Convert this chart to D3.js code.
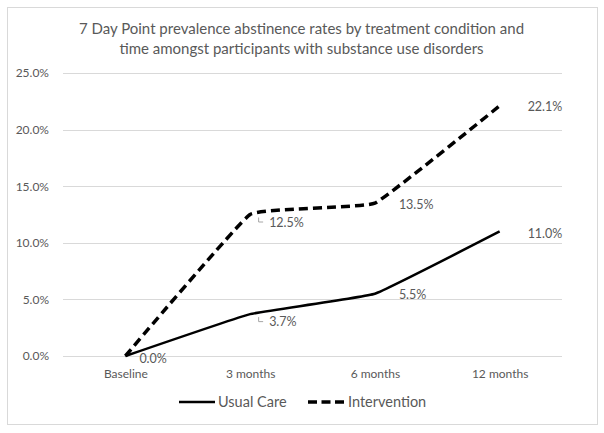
<!DOCTYPE html>
<html>
<head>
<meta charset="utf-8">
<script src="https://cdn.jsdelivr.net/npm/d3@7/dist/d3.min.js"></script>
<style>
  body { margin: 0; background: #fff; }
  text { font-family: Lato, "Open Sans", sans-serif; fill: #595959; }
</style>
</head>
<body>
<svg id="chart"></svg>
<script>
const categories = ["Baseline", "3 months", "6 months", "12 months"];
const usualCare = [0.0, 3.7, 5.5, 11.0];
const intervention = [0.0, 12.5, 13.5, 22.1];
const yTicks = [0, 5, 10, 15, 20, 25];
const titleLines = [
  "7 Day Point prevalence abstinence rates by treatment condition and",
  "time amongst participants with substance use disorders"
];

const width = 604, height = 433;
const margin = { top: 73, right: 42, bottom: 77, left: 63 };

const svg = d3.select("#chart")
  .attr("width", width)
  .attr("height", height);

// chart frame
svg.append("rect")
  .attr("x", 7.5).attr("y", 7.5)
  .attr("width", 590).attr("height", 417)
  .attr("fill", "#fff")
  .attr("stroke", "#d9d9d9");

// title
svg.selectAll(".title")
  .data(titleLines)
  .enter()
  .append("text")
  .attr("class", "title")
  .attr("x", 301.5)
  .attr("y", (d, i) => 34 + i * 19.5)
  .attr("text-anchor", "middle")
  .style("font-size", "15px")
  .text(d => d);

const x = d3.scalePoint()
  .domain(categories)
  .range([margin.left, width - margin.right])
  .padding(0.5);

const y = d3.scaleLinear()
  .domain([0, 25])
  .range([height - margin.bottom, margin.top]);

// gridlines
svg.append("g")
  .selectAll("line")
  .data(yTicks)
  .enter()
  .append("line")
  .attr("x1", margin.left)
  .attr("x2", width - margin.right)
  .attr("y1", d => Math.round(y(d)) + 0.5)
  .attr("y2", d => Math.round(y(d)) + 0.5)
  .attr("stroke", "#d9d9d9");

// y axis labels
const yAxis = svg.append("g")
  .attr("transform", `translate(${margin.left - 11},0)`)
  .call(d3.axisLeft(y).tickValues(yTicks).tickSize(0).tickFormat(d => d.toFixed(1) + "%"));
yAxis.select(".domain").remove();
yAxis.selectAll("text")
  .style("font-size", "12px")
  .style("font-family", "Lato, sans-serif")
  .attr("fill", "#595959");

// x axis labels
const xAxis = svg.append("g")
  .attr("transform", `translate(0,${height - margin.bottom + 10})`)
  .call(d3.axisBottom(x).tickSize(0));
xAxis.select(".domain").remove();
xAxis.selectAll("text")
  .style("font-size", "12px")
  .style("font-family", "Lato, sans-serif")
  .attr("fill", "#595959");

const line = d3.line()
  .x((d, i) => x(categories[i]))
  .y(d => y(d))
  .curve(d3.curveCardinal.tension(0.75));

svg.append("path")
  .datum(usualCare)
  .attr("d", line)
  .attr("fill", "none")
  .attr("stroke", "#000")
  .attr("stroke-width", 2.5);

svg.append("path")
  .datum(intervention)
  .attr("d", line)
  .attr("fill", "none")
  .attr("stroke", "#000")
  .attr("stroke-width", 3.5)
  .attr("stroke-dasharray", "9,5");

// data labels: offsets of label left/center from the point
const usualOffsets = [[14, 2], [19, 7], [24, 1], [28, 2]];
const intOffsets = [[14, 2], [19, 8], [24, 1], [28, 1]];

function addLabels(values, offsets, leader, skip) {
  values.forEach((v, i) => {
    if (skip[i]) return;
    const px = x(categories[i]), py = y(v);
    const [dx, dy] = offsets[i];
    svg.append("text")
      .attr("x", px + dx)
      .attr("y", py + dy + 4.5)
      .style("font-size", "12.5px")
      .text(v.toFixed(1) + "%");
    if (leader[i]) {
      svg.append("path")
        .attr("d", `M${px + 8.5},${py + 3}V${py + 7.5}H${px + 13}`)
        .attr("fill", "none")
        .attr("stroke", "#a6a6a6")
        .attr("stroke-width", 1);
    }
  });
}
addLabels(usualCare, usualOffsets, [false, true, false, false], [false, false, false, false]);
addLabels(intervention, intOffsets, [false, true, false, false], [true, false, false, false]);

// legend
const legend = svg.append("g").attr("transform", "translate(0,402)");
legend.append("line")
  .attr("x1", 179).attr("x2", 215)
  .attr("y1", 0).attr("y2", 0)
  .attr("stroke", "#000").attr("stroke-width", 2.5);
legend.append("text")
  .attr("x", 218).attr("y", 5)
  .style("font-size", "14.5px")
  .text("Usual Care");
legend.append("line")
  .attr("x1", 308).attr("x2", 344)
  .attr("y1", 0).attr("y2", 0)
  .attr("stroke", "#000").attr("stroke-width", 3.5)
  .attr("stroke-dasharray", "9,4.5");
legend.append("text")
  .attr("x", 348).attr("y", 5)
  .style("font-size", "14.5px")
  .text("Intervention");
</script>
</body>
</html>
